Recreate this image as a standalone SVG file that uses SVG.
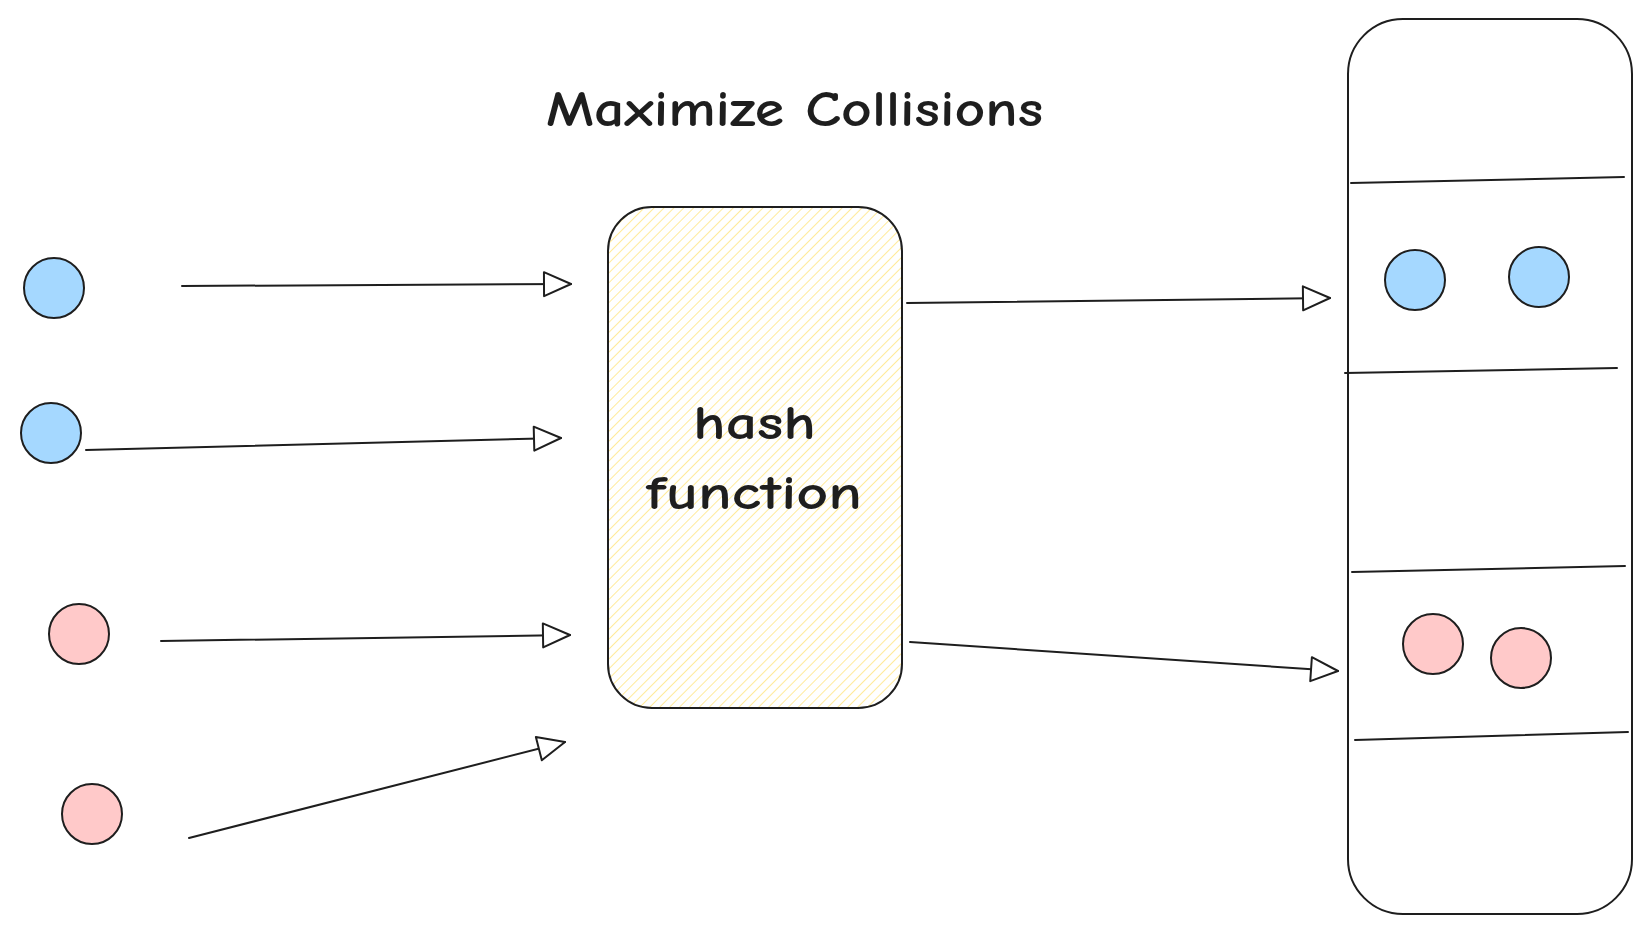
<svg xmlns="http://www.w3.org/2000/svg" width="1652" height="935" viewBox="0 0 1652 935">
<style>
.txt{font-family:"Comic Neue","Noto Sans","Liberation Sans",sans-serif;fill:#1e1e1e;font-weight:600}
.blue{fill:#a5d8ff;stroke:#1e1e1e;stroke-width:2}
.pink{fill:#ffc9c9;stroke:#1e1e1e;stroke-width:2}
.ln{fill:none;stroke:#1e1e1e;stroke-width:2;stroke-linecap:round}
</style>
<defs>
<pattern id="hatch" width="7" height="7" patternUnits="userSpaceOnUse" patternTransform="rotate(45)">
<line x1="0" y1="0" x2="0" y2="7" stroke="#ffe580" stroke-width="1.6"/>
</pattern>
<marker id="arr" viewBox="0 0 30 28" refX="29" refY="14" markerWidth="30" markerHeight="28" markerUnits="userSpaceOnUse" orient="auto">
<path d="M2,2 L29,14 L2,26 Z" fill="#fff" stroke="#1e1e1e" stroke-width="2" stroke-linejoin="round"/>
</marker>
</defs>
<rect width="1652" height="935" fill="#fff"/>
<g id="title">
<text class="txt" x="546" y="126" font-size="50" textLength="497" lengthAdjust="spacingAndGlyphs">Maximize Collisions</text>
</g>
<g id="hash-function">
<rect x="608" y="207" width="294" height="501" rx="44" fill="url(#hatch)" stroke="#1e1e1e" stroke-width="2"/>
<text class="txt" x="693" y="439" font-size="48" textLength="123" lengthAdjust="spacingAndGlyphs">hash</text>
<text class="txt" x="646" y="509" font-size="48" textLength="216" lengthAdjust="spacingAndGlyphs">function</text>
</g>
<g id="input-blue-1"><circle class="blue" cx="54" cy="288" r="30"/></g>
<g id="input-blue-2"><circle class="blue" cx="51" cy="433" r="30"/></g>
<g id="input-pink-1"><circle class="pink" cx="79" cy="634" r="30"/></g>
<g id="input-pink-2"><circle class="pink" cx="92" cy="814" r="30"/></g>
<g id="table">
<rect x="1348" y="19" width="284" height="895" rx="55" fill="none" stroke="#1e1e1e" stroke-width="2"/>
<line class="ln" x1="1351" y1="183" x2="1624" y2="177"/>
<line class="ln" x1="1345" y1="373" x2="1617" y2="368"/>
<line class="ln" x1="1352" y1="572" x2="1625" y2="566"/>
<line class="ln" x1="1355" y1="740" x2="1628" y2="732"/>
</g>
<g id="bucket-blue-1"><circle class="blue" cx="1415" cy="280" r="30"/></g>
<g id="bucket-blue-2"><circle class="blue" cx="1539" cy="277" r="30"/></g>
<g id="bucket-pink-1"><circle class="pink" cx="1433" cy="644" r="30"/></g>
<g id="bucket-pink-2"><circle class="pink" cx="1521" cy="658" r="30"/></g>
<g id="connectors">
<line class="ln" x1="182" y1="286" x2="571" y2="284" marker-end="url(#arr)"/>
<line class="ln" x1="86" y1="450" x2="561" y2="438" marker-end="url(#arr)"/>
<line class="ln" x1="161" y1="641" x2="570" y2="635" marker-end="url(#arr)"/>
<line class="ln" x1="189" y1="838" x2="565" y2="742" marker-end="url(#arr)"/>
<line class="ln" x1="907" y1="303" x2="1330" y2="298" marker-end="url(#arr)"/>
<line class="ln" x1="910" y1="642" x2="1338" y2="671" marker-end="url(#arr)"/>
</g>
</svg>
